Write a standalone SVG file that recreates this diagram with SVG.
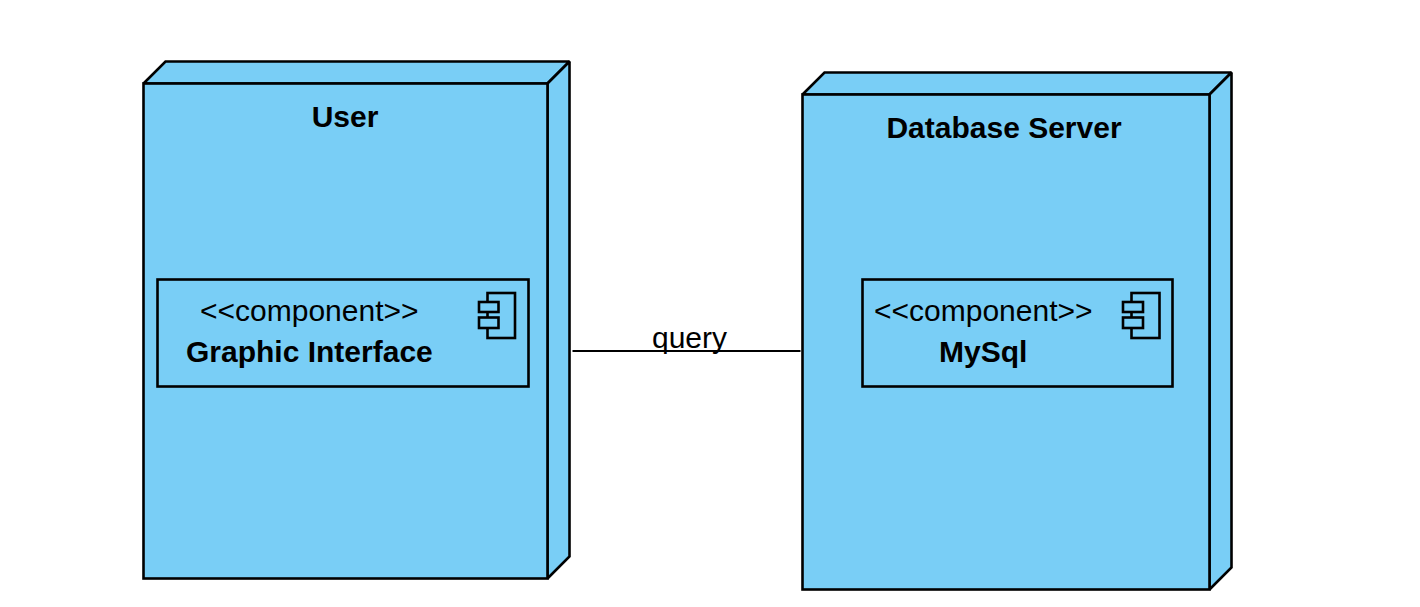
<svg xmlns="http://www.w3.org/2000/svg" width="1420" height="607" viewBox="0 0 1420 607">
<style>
.s{fill:#79cef6;stroke:#000;stroke-width:2.6;stroke-linejoin:miter;stroke-miterlimit:2}
.t{font-family:"Liberation Sans",Arial,sans-serif;font-size:30px;fill:#000}
.b{font-weight:bold}
.c{stroke:#000;stroke-width:2;fill:none}
</style>
<rect width="1420" height="607" fill="#fff"/>
<g id="connectors"><line class="c" x1="572.5" y1="351" x2="800.5" y2="351"/></g>
<text class="t" x="652" y="347.5">query</text>
<g id="node-user">
<path class="s" d="M143.5 83.5L165.5 61.5H569.5L547.5 83.5Z"/>
<path class="s" d="M547.5 83.5L569.5 61.5V556.5L547.5 578.5Z"/>
<rect class="s" x="143.5" y="83.5" width="404" height="495"/>
<text class="t b" x="345" y="127" text-anchor="middle">User</text>
</g>
<g id="node-graphic-interface">
<rect class="s" x="157.5" y="279.5" width="371" height="107"/>
<text class="t" x="200" y="321">&lt;&lt;component&gt;&gt;</text>
<text class="t b" x="186" y="362">Graphic Interface</text>
<rect class="s" x="487.5" y="293" width="27.5" height="45"/>
<rect class="s" x="479" y="302" width="19.5" height="10"/>
<rect class="s" x="479" y="317.5" width="19.5" height="10.5"/>
</g>
<g id="node-database-server">
<path class="s" d="M802.5 94.5L824.5 72.5H1231.5L1209.5 94.5Z"/>
<path class="s" d="M1209.5 94.5L1231.5 72.5V567.5L1209.5 589.5Z"/>
<rect class="s" x="802.5" y="94.5" width="407" height="495"/>
<text class="t b" x="1004" y="138" text-anchor="middle">Database Server</text>
</g>
<g id="node-mysql">
<rect class="s" x="862.5" y="279.5" width="310" height="107"/>
<text class="t" x="874" y="321">&lt;&lt;component&gt;&gt;</text>
<text class="t b" x="939" y="362">MySql</text>
<rect class="s" x="1131.5" y="293" width="28" height="45"/>
<rect class="s" x="1123" y="302" width="20" height="10"/>
<rect class="s" x="1123" y="317.5" width="20" height="10.5"/>
</g>
</svg>
